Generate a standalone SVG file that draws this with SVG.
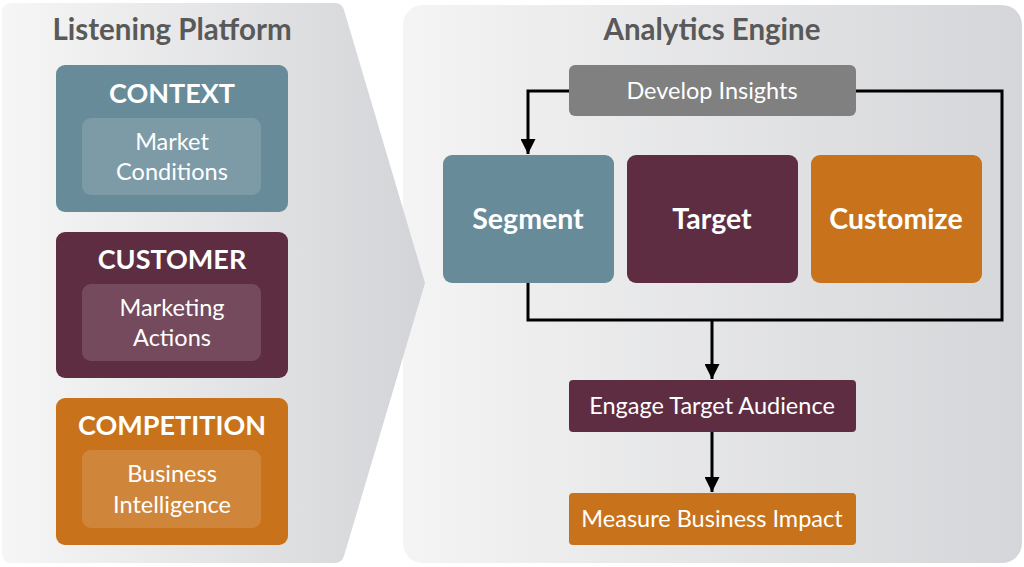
<svg xmlns="http://www.w3.org/2000/svg" width="1024" height="567" viewBox="0 0 1024 567">
<defs>
<linearGradient id="gL" x1="0" y1="0" x2="1" y2="0"><stop offset="0" stop-color="#f6f6f6"/><stop offset="1" stop-color="#d3d4d7"/></linearGradient>
<linearGradient id="gR" x1="0" y1="0" x2="1" y2="0"><stop offset="0" stop-color="#f4f4f4"/><stop offset="1" stop-color="#d5d6d9"/></linearGradient>
<marker id="arr" viewBox="0 0 10 10" refX="10" refY="5" markerWidth="5" markerHeight="5" markerUnits="strokeWidth" orient="auto"><path d="M0,0 L10,5 L0,10 z" fill="#000"/></marker>
<style>
text{font-family:Lato,"Open Sans","Liberation Sans",sans-serif;fill:#fff;text-anchor:middle}
.ttl{font-size:29.5px;font-weight:bold;fill:#595959}
.hd{font-size:27px;font-weight:bold}
.sub{font-size:23.5px}
.big{font-size:28.5px;font-weight:bold}
.blue{fill:#678b99}.plum{fill:#5e2d42}.orng{fill:#c8731b}.grey{fill:#808080}
.inner{fill:#ffffff;fill-opacity:0.14}
.conn{fill:none;stroke:#000;stroke-width:3}
</style>
</defs>
<rect x="403" y="5" width="619" height="558" rx="20" fill="url(#gR)"/>
<path d="M12,3 H335 Q342,3 344,10 L425,283 L344,556 Q342,563 335,563 H12 Q2,563 2,553 V13 Q2,3 12,3 Z" fill="url(#gL)"/>
<text class="ttl" x="172" y="40">Listening Platform</text>
<text class="ttl" x="712" y="40">Analytics Engine</text>
<g id="context"><rect class="blue" x="56" y="65" width="232" height="147" rx="9"/><rect class="inner" x="82" y="118" width="179" height="77" rx="9"/><text class="hd" x="172" y="103">CONTEXT</text><text class="sub" x="172" y="150">Market</text><text class="sub" x="172" y="180">Conditions</text></g>
<g id="customer"><rect class="plum" x="56" y="232" width="232" height="146" rx="9"/><rect class="inner" x="82" y="284" width="179" height="77" rx="9"/><text class="hd" x="172" y="269">CUSTOMER</text><text class="sub" x="172" y="316">Marketing</text><text class="sub" x="172" y="346">Actions</text></g>
<g id="competition"><rect class="orng" x="56" y="398" width="232" height="147" rx="9"/><rect class="inner" x="82" y="450" width="179" height="78" rx="9"/><text class="hd" x="172" y="435">COMPETITION</text><text class="sub" x="172" y="482">Business</text><text class="sub" x="172" y="513">Intelligence</text></g>
<g id="connectors">
<path class="conn" d="M569,91 H528 V154" marker-end="url(#arr)"/>
<path class="conn" d="M856,91 H1002 V320 H528 V283"/>
<path class="conn" d="M712,320 V379" marker-end="url(#arr)"/>
<path class="conn" d="M712,432 V492" marker-end="url(#arr)"/>
</g>
<g id="develop"><rect class="grey" x="569" y="65" width="287" height="51" rx="6"/><text class="sub" x="712" y="99">Develop Insights</text></g>
<g id="segment"><rect class="blue" x="443" y="155" width="171" height="128" rx="9"/><text class="big" x="528" y="229">Segment</text></g>
<g id="target"><rect class="plum" x="627" y="155" width="171" height="128" rx="9"/><text class="big" x="712" y="229">Target</text></g>
<g id="customize"><rect class="orng" x="811" y="155" width="171" height="128" rx="9"/><text class="big" x="896" y="229">Customize</text></g>
<g id="engage"><rect class="plum" x="569" y="380" width="287" height="52" rx="4"/><text class="sub" x="712" y="414">Engage Target Audience</text></g>
<g id="measure"><rect class="orng" x="569" y="493" width="287" height="52" rx="4"/><text class="sub" x="712" y="527">Measure Business Impact</text></g>
</svg>
